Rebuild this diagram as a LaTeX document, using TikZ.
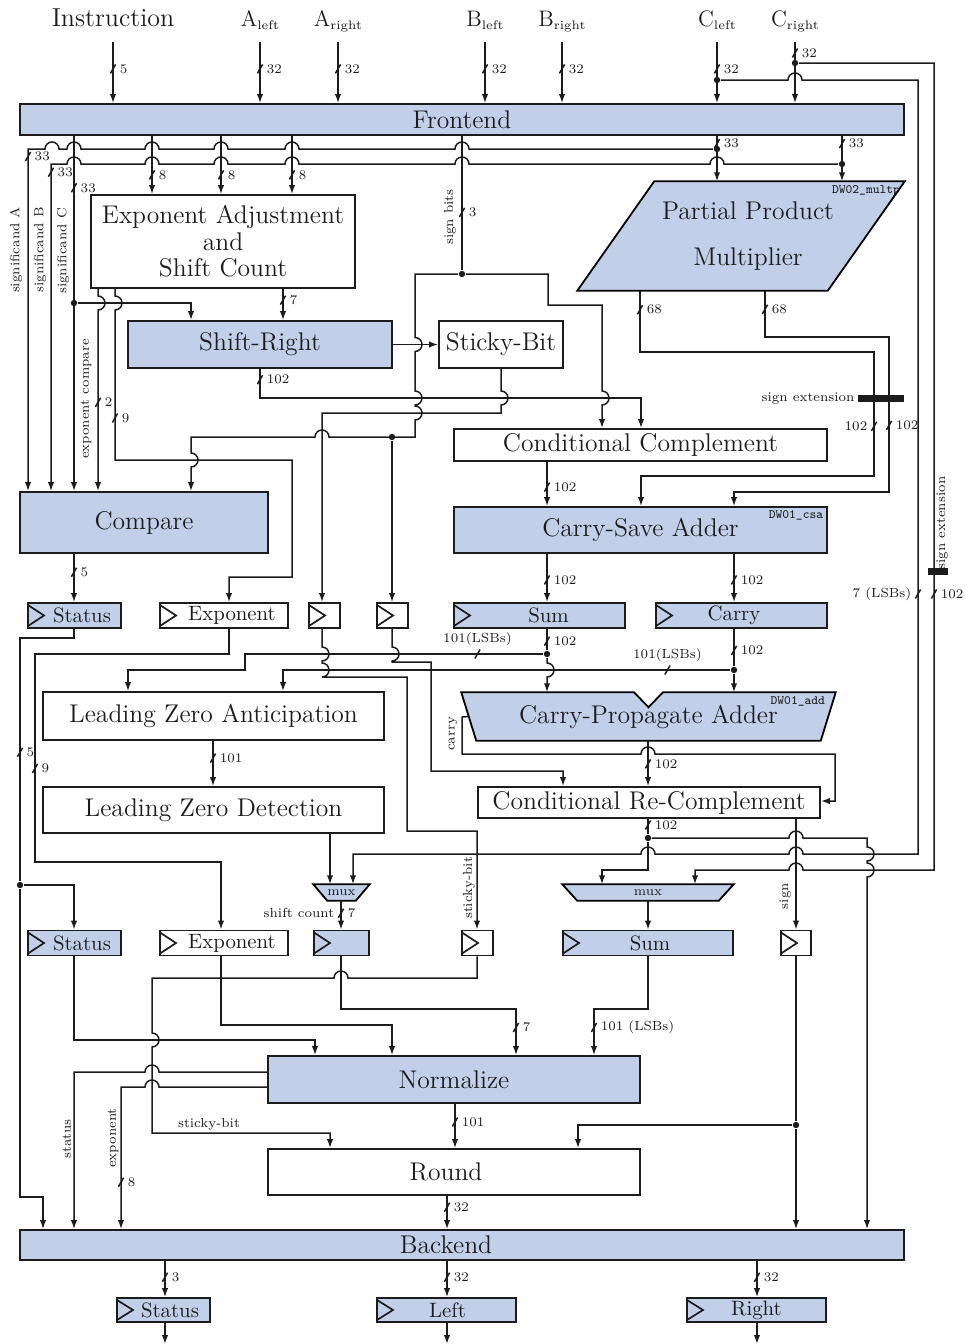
\documentclass[tikz,border=0pt]{standalone}
\usepackage{graphicx}
\usetikzlibrary{arrows.meta,backgrounds}

\definecolor{blk}{RGB}{193,207,232}
\definecolor{ink}{RGB}{28,28,28}

\newcommand\topfont{\fontsize{13}{15}\selectfont}
\newcommand\abcfont{\fontsize{11.2}{13}\selectfont}
\newcommand\blkfont{\fontsize{12.8}{13.3}\selectfont}
\newcommand\regfont{\fontsize{10.4}{12}\selectfont}
\newcommand\lblfont{\fontsize{6.6}{7.5}\selectfont}
\newcommand\tagfont{\fontsize{6.4}{7}\selectfont\ttfamily}
\newcommand\opsub[1]{\raisebox{-1.6pt}{\fontsize{6.2}{7}\selectfont #1}}
\newcommand\busmark{\rotatebox[origin=c]{-30}{\rule[-2.6pt]{0.75pt}{5.2pt}}}
% line hops: going right, going left, going down
\newcommand\hopr[2]{-- ({#1-7},#2) arc[start angle=180,end angle=360,radius=7]}
\newcommand\hopl[2]{-- ({#1+7},#2) arc[start angle=0,end angle=-180,radius=7]}
\newcommand\hopd[2]{-- (#1,{#2-7}) arc[start angle=-90,end angle=90,radius=7]}

\tikzset{
  wd/.style={minimum width=#1*0.5pt},
  ht/.style={minimum height=#1*0.5pt},
  box/.style={draw=ink, line width=.9pt, fill=blk, font=\blkfont, inner sep=0pt, align=center},
  wbox/.style={box, fill=white},
  reg/.style={draw=ink, line width=.9pt, font=\regfont, inner sep=0pt, minimum height=12.5pt,
    path picture={\draw[line width=.85pt] ([yshift=-1pt]path picture bounding box.north west)
      -- ([xshift=8pt]path picture bounding box.west)
      -- ([yshift=1pt]path picture bounding box.south west);}},
  breg/.style={reg, fill=blk},
  wreg/.style={reg, fill=white},
  lbl/.style={font=\lblfont, inner sep=1pt},
  tag/.style={font=\tagfont, inner sep=2pt},
  dot/.style={circle, fill=ink, inner sep=0pt, minimum size=3.2pt},
  bus/.style={inner sep=0pt, execute at begin node=\busmark, label={[lbl]right:#1}},
  busl/.style={inner sep=0pt, execute at begin node=\busmark, label={[lbl]left:#1}},
  busa/.style={inner sep=0pt, execute at begin node=\busmark, label={[lbl]above:#1}},
  sebar/.style={fill=ink, inner sep=0pt}
}

\begin{document}
\begin{tikzpicture}[x=0.5pt, y=-0.5pt, color=ink, line width=0.75pt,
  >={Latex[length=4.5pt,width=3.2pt]}]
\useasboundingbox (0,0) rectangle (964,1344);

% operands
\node[font=\topfont, anchor=base] (ins) at (113,26) {Instruction};
\node[font=\abcfont, anchor=base] (al) at (260,26) {A\opsub{left}};
\node[font=\abcfont, anchor=base] (ar) at (338,26) {A\opsub{right}};
\node[font=\abcfont, anchor=base] (bl) at (485,26) {B\opsub{left}};
\node[font=\abcfont, anchor=base] (br) at (562,26) {B\opsub{right}};
\node[font=\abcfont, anchor=base] (cl) at (717,26) {C\opsub{left}};
\node[font=\abcfont, anchor=base] (cr) at (795,26) {C\opsub{right}};

% blocks
\node[box, wd=884, ht=31] (fe) at (462,119.5) {Frontend};
\node[wbox, wd=264, ht=93] (ea) at (223,241.5) {Exponent Adjustment\\and\\Shift Count};
\node[wd=326, ht=108, inner sep=0pt, font=\blkfont, align=center,
  label={[tag,anchor=north east]north east:DW02\_multp}] (ppm) at (741,236)
  {\hspace*{7pt}Partial Product\\[10pt]\hspace*{7pt}Multiplier};
\node[box, wd=264, ht=47] (sr) at (260,344.5) {Shift-Right};
\node[wbox, wd=124, ht=47] (sb) at (501,344.5) {Sticky-Bit};
\node[wbox, wd=373, ht=32] (cc) at (640.5,445) {Conditional Complement};
\node[box, wd=248, ht=61] (cmp) at (144,522.5) {Compare};
\node[box, wd=373, ht=46, label={[tag,anchor=north east]north east:DW01\_csa}] (csa) at (640.5,530) {Carry-Save Adder};

\node[breg, wd=93] (st1) at (74.5,615.5) {\hspace*{7.5pt}Status};
\node[wreg, wd=128] (ex1) at (224,615.5) {\hspace*{8pt}Exponent};
\node[wreg, wd=31] (r3) at (324.5,615.5) {};
\node[wreg, wd=31] (r4) at (392.5,615.5) {};
\node[breg, wd=171] (sm1) at (539.5,615.5) {\hspace*{9pt}Sum};
\node[breg, wd=171] (cy1) at (741.5,615.5) {\hspace*{-7.5pt}Carry};

\node[wbox, wd=341, ht=48] (lza) at (213.5,716) {Leading Zero Anticipation};
\node[wbox, wd=341, ht=46] (lzd) at (213.5,810) {Leading Zero Detection};
\node[wd=373, ht=47, inner sep=0pt, font=\blkfont,
  label={[tag,anchor=north east,xshift=-3pt]north east:DW01\_add}] (cpa) at (648.5,716.5)
  {\raisebox{-4pt}{Carry-Propagate Adder}};
\node[wbox, wd=342, ht=31] (crc) at (649,802.5) {Conditional Re-Complement};
\node[wd=55, ht=15, inner sep=0pt, font=\lblfont] (m1) at (341.5,892.5) {mux};
\node[wd=170, ht=15, inner sep=0pt, font=\lblfont] (m2) at (648,892.5) {mux};

\node[breg, wd=93] (st2) at (74.5,943) {\hspace*{7.5pt}Status};
\node[wreg, wd=128] (ex2) at (224,943) {\hspace*{8pt}Exponent};
\node[breg, wd=55] (rsh) at (341.5,943) {};
\node[wreg, wd=31] (r5) at (477.5,943) {};
\node[breg, wd=170] (sm2) at (648,943) {\hspace*{2pt}Sum};
\node[wreg, wd=30] (r6) at (796,943) {};

\node[box, wd=372, ht=47] (nm) at (454,1079.5) {Normalize};
\node[wbox, wd=372, ht=46] (rd) at (454,1172) {\hspace*{-8pt}Round};
\node[box, wd=884, ht=30] (bk) at (462,1245) {\hspace*{-16pt}Backend};
\node[breg, wd=93, minimum height=12pt] (so) at (163.5,1310) {\hspace*{6.5pt}Status};
\node[breg, wd=139, minimum height=12pt] (lo) at (446.5,1310) {\hspace*{1pt}Left};
\node[breg, wd=139, minimum height=12pt] (ro) at (756.5,1310) {Right};
\coordinate (so-end) at (165,1344);
\coordinate (lo-end) at (447,1344);
\coordinate (ro-end) at (757,1344);

\begin{scope}[on background layer]
  \filldraw[fill=blk, line width=.9pt] (ppm.south west) -- ([xshift=38.5pt]ppm.north west)
    -- (ppm.north east) -- ([xshift=-38.5pt]ppm.south east) -- cycle;
  \filldraw[fill=blk, line width=.9pt] (cpa.north west) -- ([xshift=-7.25pt]cpa.north)
    -- ([yshift=-7.5pt]cpa.north) -- ([xshift=7.25pt]cpa.north) -- (cpa.north east)
    -- ([xshift=-7.5pt]cpa.south east) -- ([xshift=7.5pt]cpa.south west) -- cycle;
  \filldraw[fill=blk, line width=.9pt] (m1.north west) -- (m1.north east)
    -- ([xshift=-7pt]m1.south east) -- ([xshift=7pt]m1.south west) -- cycle;
  \filldraw[fill=blk, line width=.9pt] (m2.north west) -- (m2.north east)
    -- ([xshift=-7.5pt]m2.south east) -- ([xshift=7.5pt]m2.south west) -- cycle;
\end{scope}

% inputs
\foreach \n/\b in {ins/5, al/32, ar/32, bl/32, br/32, cl/32}
  \draw[->] (\n |- 0,42) -- node[bus=\b, pos=.44]{} (\n |- fe.north);
\draw[->] (cr |- 0,42) -- node[bus=32, pos=.18]{} (cr |- fe.north);
\node[dot] (dcl) at (cl |- 0,80) {};
\node[dot] (dcr) at (cr |- 0,63) {};
\draw[->] (dcl) \hopr{795}{80} -- (918,80) -- node[busl=7 (LSBs), pos=.664]{} (918,854)
  \hopl{796}{854} \hopl{648}{854} -- (353,854) -- (m1.north -| 353,0);
\draw[->] (dcr) -- (934,63) -- node[bus=102, pos=.658]{} (934,870)
  \hopl{796}{870} -- (695,870) -- (m2.north -| 695,0);
\node[lbl, rotate=90] (selbl) at (942,523) {sign extension};

% frontend outputs
\draw[->] (fe.south -| 717,0) -- node[bus=33, pos=.17]{} (ppm.north -| 717,0);
\draw[->] (fe.south -| 842,0) -- node[bus=33, pos=.17]{} (ppm.north -| 842,0);
\node[dot] (d1) at (717,149) {};
\node[dot] (d2) at (842,164) {};
\draw[->] (d1) \hopl{462}{149} \hopl{292}{149} \hopl{221}{149} \hopl{152}{149}
  \hopl{74}{149} \hopl{52}{149} -- (28,149) -- node[bus=33, pos=.022]{} (cmp.north -| 28,0);
\draw[->] (d2) \hopl{717}{164} \hopl{462}{164} \hopl{292}{164} \hopl{221}{164}
  \hopl{152}{164} \hopl{74}{164} -- (51,164) -- node[bus=33, pos=.025]{} (cmp.north -| 51,0);
\draw[->] (fe.south -| 74,0) -- node[bus=33, pos=.146]{} (cmp.north -| 74,0);
\foreach \x in {152,221,292}
  \draw[->] (fe.south -| \x,0) -- node[bus=8, pos=.67]{} (ea.north -| \x,0);
\node[lbl, rotate=90] (lsa) at (16,250) {significand A};
\node[lbl, rotate=90] (lsb) at (40,250) {significand B};
\node[lbl, rotate=90] (lsc) at (63,251) {significand C};

% sign bits
\node[dot] (dsb) at (462,274) {};
\draw (fe.south -| 462,0) -- node[bus=3, pos=.57]{} (dsb);
\node[lbl, rotate=90] (lsgb) at (450,217) {sign bits};
\draw[->] (dsb) -- (548,274) -- (548,305) -- (602,305) \hopd{602}{398} -- (cc.north -| 602,0);
\draw[->] (dsb) -- (415,274) \hopd{415}{344.5} \hopd{415}{398} \hopd{415}{413} -- (415,437)
  \hopl{322}{437} -- (191,437) \hopd{191}{460} -- (cmp.north -| 191,0);
\node[dot] (dsg) at (392,437) {};

% exponent adjustment
\node[dot] (d3) at (74,303) {};
\draw[->] (d3) -- (191,303) -- (sr.north -| 191,0);
\draw[->] (ea.south -| 283,0) -- node[bus=7, pos=.36]{} (sr.north -| 283,0);
\draw[->] (ea.south -| 98,0) \hopd{98}{303} -- node[bus=2, pos=.51]{} (cmp.north -| 98,0);
\node[lbl, rotate=90] (lexc) at (86,399) {exponent compare};
\draw[->] (ea.south -| 115,0) \hopd{115}{303} -- node[bus=9, pos=.72]{} (115,460) -- (292,460)
  -- (292,577) -- (229,577) -- (ex1.north -| 229,0);

% shifter and sticky bit
\draw[->] (sr.east) -- (sb.west);
\draw[->] (sr.south) -- node[bus=102, pos=.37]{} (260,398) -- (641,398) -- (cc.north -| 641,0);
\draw[->] (sb.south) \hopd{501}{398} -- (501,413) -- (322,413) -- (r3.north -| 322,0);

% multiplier
\draw[->] (ppm.south -| 640,0) -- node[bus=68, pos=.31]{} (640,352) -- (874,352)
  -- node[busl=102, pos=.6]{} (874,476) -- (641,476) -- (csa.north -| 641,0);
\draw[->] (ppm.south -| 765,0) -- node[bus=68, pos=.4]{} (765,337) -- (889,337)
  -- node[bus=102, pos=.57]{} (889,492) -- (734,492) -- (csa.north -| 734,0);
\node[sebar, wd=46, ht=7, label={[lbl]left:sign extension}] (se1) at (881,398.5) {};
\node[sebar, wd=20, ht=7] (se2) at (938,571.5) {};

% adders
\draw[->] (cc.south -| 547,0) -- node[bus=102, pos=.57]{} (csa.north -| 547,0);
\draw[->] (csa.south -| 547,0) -- node[bus=102, pos=.54]{} (sm1.north -| 547,0);
\draw[->] (csa.south -| 734,0) -- node[bus=102, pos=.54]{} (cy1.north -| 734,0);
\draw[->] (cmp.south -| 74,0) -- node[bus=5, pos=.38]{} (st1.north -| 74,0);

\node[dot] (dsm) at (547,654) {};
\node[dot] (dcy) at (734,670) {};
\draw (sm1.south -| 547,0) -- node[bus=102, pos=.58]{} (dsm);
\draw[->] (dsm) \hopd{547}{670} -- (cpa.north -| 547,0);
\draw (cy1.south -| 734,0) -- node[bus=102, pos=.58]{} (dcy);
\draw[->] (dcy) -- (cpa.north -| 734,0);
\draw[->] (dsm) -- node[busa=101(LSBs), pos=.22]{} (245,654) -- (245,670) -- (128,670) -- (lza.north -| 128,0);
\draw[->] (dcy) -- node[busa=101(LSBs), pos=.14]{} (283,670) -- (lza.north -| 283,0);

\draw[->] (r3.south -| 322,0) \hopd{322}{654} \hopd{322}{670} -- (407,677) -- (407,831)
  -- (477,831) -- (r5.north -| 477,0);
\node[lbl, rotate=90] (lstb) at (469,888) {sticky-bit};
\draw[->] (dsg) -- (r4.north -| 392,0);
\draw[->] (r4.south -| 392,0) \hopd{392}{654} -- (392,662) -- (431,662) -- (431,771)
  -- (563,771) -- (crc.north -| 563,0);

\draw[->] (cpa.south -| 648,0) -- node[bus=102, pos=.51]{} (crc.north -| 648,0);
\draw[->] ([xshift=3.75pt]cpa.west) -- (462,717) -- (462,754) \hopr{648}{754} -- (835,754)
  -- (835,801) -- (crc.east |- 0,801);
\node[lbl, rotate=90] (lcar) at (453,734) {carry};

\node[dot] (dre) at (648,838) {};
\draw (crc.south -| 648,0) -- node[bus=102, pos=.4]{} (dre);
\draw[->] (dre) -- (648,870) -- (602,870) -- (m2.north -| 602,0);
\draw[->] (dre) \hopr{796}{838} -- (867,838) \hopd{867}{854} \hopd{867}{870} -- (bk.north -| 867,0);
\draw[->] (crc.south -| 796,0) -- (r6.north -| 796,0);
\node[lbl, rotate=90] (lsgn) at (785,896) {sign};

% leading zeros
\draw[->] (lza.south -| 213,0) -- node[bus=101, pos=.38]{} (lzd.north -| 213,0);
\draw[->] (lzd.south -| 330,0) -- (m1.north -| 330,0);
\draw[->] (m1.south -| 341,0) -- node[bus=7, pos=.43, label={[lbl]left:shift count}]{} (rsh.north -| 341,0);
\draw[->] (m2.south) -- (sm2.north);

% status and exponent
\node[dot] (dst) at (20,885) {};
\draw[->] (st1.south -| 74,0) -- (74,638) -- (20,638) -- node[bus=5, pos=.47]{} (dst)
  -- (20,1197) -- (43,1197) -- (bk.north -| 43,0);
\draw[->] (dst) -- (74,885) -- (st2.north -| 74,0);
\draw[->] (ex1.south -| 229,0) -- (229,654) -- (35,654) -- node[bus=9, pos=.55]{} (35,862)
  -- (221,862) -- (ex2.north -| 221,0);

% normalize and round
\draw[->] (st2.south -| 74,0) -- (74,1040) -- (315,1040) -- (nm.north -| 315,0);
\draw[->] (ex2.south -| 221,0) -- (221,1025) -- (392,1025) -- (nm.north -| 392,0);
\draw[->] (rsh.south -| 341,0) -- (341,1009) -- (516,1009) -- node[bus=7, pos=.4]{} (nm.north -| 516,0);
\draw[->] (r5.south -| 477,0) -- (477,978) \hopl{341}{978} -- (152,978) \hopd{152}{1040}
  -- (152,1133) -- node[lbl, above, pos=.32]{sticky-bit} (330,1133) -- (rd.north -| 330,0);
\draw[->] (sm2.south) -- (648,1009) -- (594,1009) -- node[bus=101 (LSBs), pos=.4]{} (nm.north -| 594,0);
\draw[->] (nm.west |- 0,1072) \hopl{152}{1072} -- (74,1072) -- (bk.north -| 74,0);
\draw[->] (nm.west |- 0,1087) \hopl{152}{1087} -- (121,1087) -- node[bus=8, pos=.67]{} (bk.north -| 121,0);
\node[lbl, rotate=90] (lst) at (67,1139) {status};
\node[lbl, rotate=90] (lexp) at (113,1138) {exponent};

\draw[->] (nm.south -| 455,0) -- node[bus=101, pos=.41]{} (rd.north -| 455,0);
\draw[->] (rd.south -| 447,0) -- node[bus=32, pos=.34]{} (bk.north -| 447,0);
\node[dot] (dsn) at (796,1125) {};
\draw (r6.south) -- (dsn);
\draw[->] (dsn) -- (bk.north -| 796,0);
\draw[->] (dsn) -- (578,1125) -- (rd.north -| 578,0);

% results
\foreach \x/\b/\n in {165/3/so, 447/32/lo, 757/32/ro}{
  \draw[->] (bk.south -| \x,0) -- node[bus=\b, pos=.45]{} (\n.north -| \x,0);
  \draw[->] (\n.south -| \x,0) -- (\n-end);
}
\end{tikzpicture}
\end{document}
